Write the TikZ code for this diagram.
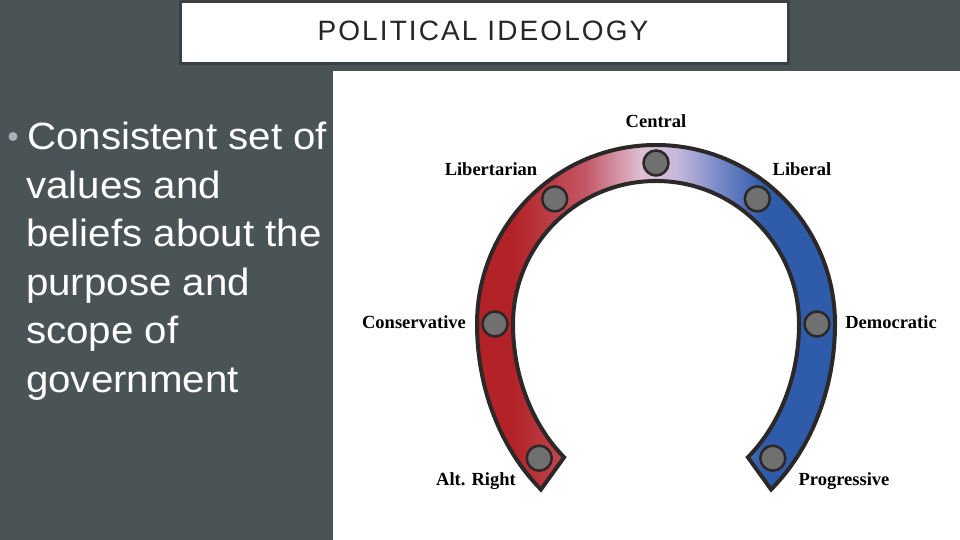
\documentclass[tikz,border=0pt]{standalone}
\usepackage{fontspec}
\usepackage{tikz}
\usetikzlibrary{calc}

\newfontfamily\titlefont[LetterSpace=7.5]{Liberation Sans}
\newfontfamily\bodyfont[FakeStretch=1.06]{Liberation Sans}
\newfontfamily\labelfont{Liberation Serif}

\definecolor{slatebg}{RGB}{74,83,86}
\definecolor{boxedge}{RGB}{58,64,67}
\definecolor{titleink}{RGB}{38,38,38}
\definecolor{dotgray}{RGB}{168,179,184}
\definecolor{rightred}{RGB}{178,34,38}
\definecolor{redpink}{RGB}{196,86,100}
\definecolor{centerpink}{RGB}{222,192,212}
\definecolor{centerlilac}{RGB}{198,184,220}
\definecolor{leftblueish}{RGB}{118,136,200}
\definecolor{leftblue}{RGB}{46,92,170}
\definecolor{bandedge}{RGB}{44,40,40}
\definecolor{markgray}{RGB}{112,112,112}

\pgfdeclarehorizontalshading{spectrum}{100bp}{color(0bp)=(rightred); color(30bp)=(rightred);
  color(40bp)=(redpink); color(48bp)=(centerpink); color(53bp)=(centerlilac);
  color(59bp)=(leftblueish); color(65bp)=(leftblue); color(100bp)=(leftblue)}

\tikzset{
  band/.style={shading=spectrum, draw=bandedge, line width=4pt},
  marker/.style={shape=circle, draw=bandedge, fill=markgray, line width=2.5pt, minimum size=25pt, inner sep=0pt},
  lbl/.style={anchor=base, font=\labelfont\bfseries\fontsize{18.5}{20}\selectfont, text=black, inner sep=0pt},
  bodyline/.style={anchor=base west, font=\bodyfont\fontsize{38}{46}\selectfont, text=white, inner sep=0pt}
}

\begin{document}
\begin{tikzpicture}[x=1pt,y=1pt]

	\useasboundingbox (0,0) rectangle (960,540);
	\fill[slatebg] (0,0) rectangle (960,540);

	% title box
	\filldraw[fill=white, draw=boxedge, line width=3pt] (180,476) rectangle (788,538);
	\node[font=\titlefont\fontsize{28}{32}\selectfont, text=titleink] (title) at (483,509) {POLITICAL IDEOLOGY};

	% bullet text
	\node[shape=circle, fill=dotgray, minimum size=9pt, inner sep=0pt] (bullet) at (13,403.5) {};
	\node[bodyline] (l1) at (27,390)   {Consistent set of};
	\node[bodyline] (l2) at (26,341.5) {values and};
	\node[bodyline] (l3) at (26,293)   {beliefs about the};
	\node[bodyline] (l4) at (26,244.5) {purpose and};
	\node[bodyline] (l5) at (26,196)   {scope of};
	\node[bodyline] (l6) at (26,147.5) {government};

	% picture panel
	\fill[white] (333,0) rectangle (960,469);

	% the horseshoe
	\coordinate (hub) at (656,216);
	\shadedraw[band] ($(hub)+(230:179pt and 216pt)$)
		arc[start angle=230, end angle=180, x radius=179pt, y radius=216pt]
		arc[start angle=180, end angle=0, radius=179pt]
		arc[start angle=0, end angle=-50, x radius=179pt, y radius=216pt]
		-- ($(hub)+(-50:143pt and 174pt)$)
		arc[start angle=-50, end angle=0, x radius=143pt, y radius=174pt]
		arc[start angle=0, end angle=180, radius=143pt]
		arc[start angle=180, end angle=230, x radius=143pt, y radius=174pt]
		-- cycle;

	\node[marker] (central) at (656, 377)     {};
	\node[marker] (libertarian) at (554.7, 341.1) {};
	\node[marker] (liberal) at (757.3, 341.1) {};
	\node[marker] (conservative) at (495, 216) {};
	\node[marker] (democratic) at (817, 216) {};
	\node[marker] (altright) at (539.2, 81.8) {};
	\node[marker] (progressive) at (772.8, 81.8) {};

	\node[lbl] (centraltext) at (656,412) {Central};
	\node[lbl] (libertariantext) at (491,364) {Libertarian};
	\node[lbl] (liberaltext) at (802,364) {Liberal};
	\node[lbl] (conservativetext) at (414,211) {Conservative};
	\node[lbl] (democratictext) at (891,211) {Democratic};
	\node[lbl] (altrighttext) at (476,54) {Alt. Right};
	\node[lbl] (progressivetext) at (844,54) {Progressive};

\end{tikzpicture}
\end{document}
